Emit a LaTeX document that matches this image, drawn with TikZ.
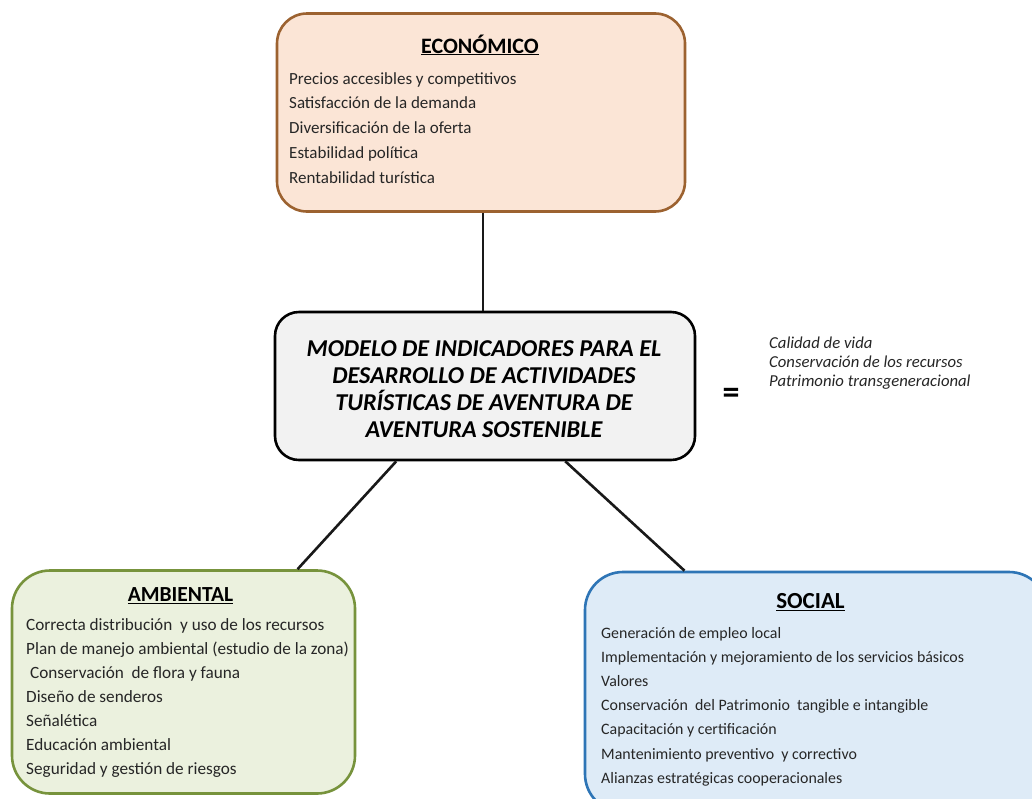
\documentclass[tikz,border=0pt]{standalone}
\usepackage{fontspec}
\setmainfont{Carlito}
\usetikzlibrary{calc}
\definecolor{ecofill}{HTML}{FBE5D6}
\definecolor{ecoline}{HTML}{9C6230}
\definecolor{ambfill}{HTML}{EBF1DE}
\definecolor{ambline}{HTML}{77933C}
\definecolor{socfill}{HTML}{DEEBF7}
\definecolor{socline}{HTML}{2E75B6}
\definecolor{cenfill}{HTML}{F2F2F2}
\tikzset{
  box/.style={rectangle, rounded corners=#1, line width=2.6pt, inner sep=0pt},
  conn/.style={line width=2.6pt, black!90},
  title/.style={font=\fontsize{#1}{20}\selectfont\bfseries, anchor=base, inner sep=0pt},
  item/.style={font=\fontsize{#1}{17}\selectfont, anchor=base west, inner sep=0pt, text=black!85},
  main/.style={font=\fontsize{24.2}{26.8}\selectfont\bfseries\itshape, align=center, inner sep=0pt},
  side/.style={font=\fontsize{16.7}{19}\selectfont\itshape, align=left, anchor=base west, inner sep=0pt, text=black!85}
}
\begin{document}
\begin{tikzpicture}[x=1pt,y=-1pt]
\useasboundingbox (0,0) rectangle (1032,798);
\clip (0,0) rectangle (1032,798);
\fill[white] (0,0) rectangle (1032,798);
% boxes
\node[box=30pt, draw=ecoline, fill=ecofill, minimum width=408pt, minimum height=198pt] (eco) at (481,112.5) {};
\node[box=24pt, draw=black, fill=cenfill, minimum width=420pt, minimum height=148pt] (cen) at (485,386) {};
\node[box=38pt, draw=ambline, fill=ambfill, minimum width=343pt, minimum height=223pt] (amb) at (183.5,682) {};
\node[box=38pt, draw=socline, fill=socfill, minimum width=462pt, minimum height=240pt] (soc) at (816,692) {};
% connectors
\draw[conn] (eco.south -| 483,0) -- (cen.north -| 483,0);
\draw[conn] ($(cen.south west)!0.29!(cen.south east)$) -- ($(amb.north west)!0.83!(amb.north east)$);
\draw[conn] ($(cen.south west)!0.69!(cen.south east)$) -- ($(soc.north west)!0.217!(soc.north east)$);
% economico
\node[title=22] (ecot) at (480,53) {\underline{ECONÓMICO}};
\foreach \t [count=\i] in {Precios accesibles y competitivos, Satisfacción de la demanda, Diversificación de la oferta, Estabilidad política, Rentabilidad turística}
  \node[item=17] (e\i) at (289,{84+(\i-1)*24.8}) {\t};
% center
\node[main] (cent) at (484,389) {MODELO DE INDICADORES PARA EL\\DESARROLLO DE ACTIVIDADES\\TURÍSTICAS DE AVENTURA DE\\AVENTURA SOSTENIBLE};
\node[font=\fontsize{34}{34}\selectfont\bfseries, inner sep=0pt] (eq) at (731,396) {=};
\node[side] (res) at (769,386) {Calidad de vida\\Conservación de los recursos\\Patrimonio transgeneracional};
% ambiental
\node[title=21.5] (ambt) at (180.5,601.7) {\underline{AMBIENTAL}};
\foreach \t [count=\i] in {Correcta distribución\ \ y uso de los recursos, Plan de manejo ambiental (estudio de la zona), \ Conservación\ \ de flora y fauna, Diseño de senderos, Señalética, Educación ambiental, Seguridad y gestión de riesgos}
  \node[item=17.2] (a\i) at (26,{630+(\i-1)*24.05}) {\t};
% social
\node[title=23] (soct) at (810.5,608.3) {\underline{SOCIAL}};
\foreach \t [count=\i] in {Generación de empleo local, Implementación y mejoramiento de los servicios básicos, Valores, Conservación\ \ del Patrimonio\ \ tangible e intangible, Capacitación y certificación, Mantenimiento preventivo\ \ y correctivo, Alianzas estratégicas cooperacionales}
  \node[item=15.9] (s\i) at (601,{638.3+(\i-1)*24.15}) {\t};
\end{tikzpicture}
\end{document}
